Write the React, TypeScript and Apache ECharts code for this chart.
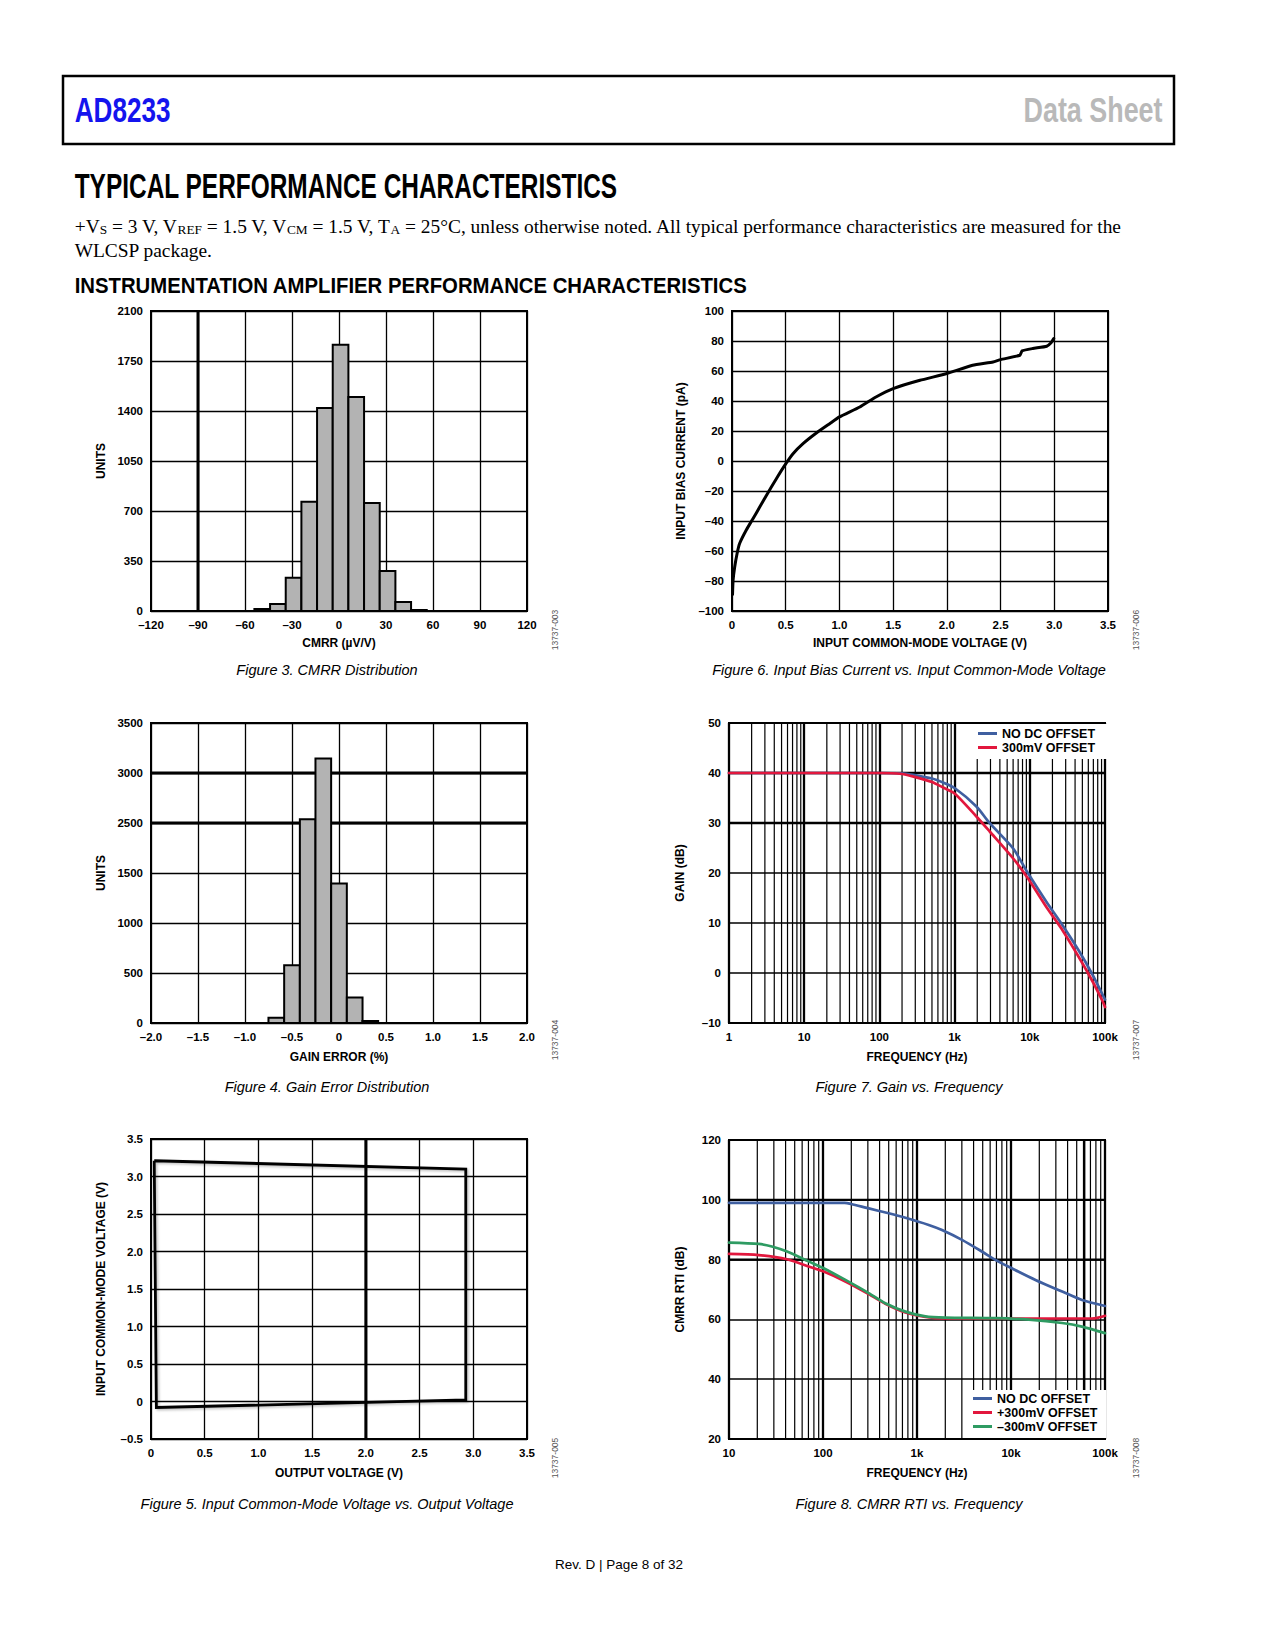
import React, { useEffect, useRef } from "react";
import * as echarts from "echarts";

// ---------- Figure 3: CMRR distribution ----------
const cmrrBinCenters = [-49, -39, -29, -19, -9, 1, 11, 21, 31, 41, 51];
const cmrrCounts = [14, 49, 233, 765, 1421, 1864, 1498, 756, 280, 63, 7];
const cmrrBinWidth = 10;

// ---------- Figure 4: Gain error distribution (values in grid-scale units) ----------
const gainErrBinCenters = [-0.667, -0.5, -0.333, -0.167, 0, 0.167, 0.333];
const gainErrCounts = [53, 578, 2038, 2646, 1396, 254, 20];
const gainErrBinWidth = 0.1667;
const gainErrYLabels = ["0", "500", "1000", "1500", "2500", "3000", "3500"];

// ---------- Figure 5: Input common-mode vs output voltage ----------
const outV = [0.03, 2.93, 2.93, 0.05, 0.03];
const inCmV = [3.21, 3.1, 0.02, -0.08, 3.21];

// ---------- Figure 6: Input bias current vs input common-mode voltage ----------
const biasV = [0.005, 0.01, 0.025, 0.047, 0.071, 0.133, 0.195, 0.258, 0.32, 0.413, 0.506, 0.568, 0.661, 0.785, 0.909, 1.0, 1.19, 1.34, 1.5, 1.75, 2.0, 2.24, 2.43, 2.5, 2.68, 2.7, 2.8, 2.93, 2.97, 2.995];
const biasI = [-89, -79.6, -70.7, -61.8, -55, -46, -38.5, -30.7, -23, -11.8, -1.3, 4.9, 11.6, 18.7, 24.9, 29.4, 36, 42.7, 48.3, 53.8, 58.3, 63.8, 66, 67.6, 70.5, 73.4, 75, 76.5, 78.8, 81.6];

// ---------- Figure 7: Gain vs frequency ----------
const gainFreq = [1, 10, 100, 200, 280, 500, 702, 1000, 1950, 2930, 5980, 9470, 16600, 26300, 46000, 69000, 94000, 100000];
const gainNoOffset = [40, 40, 40, 39.95, 39.64, 38.9, 38.1, 37.0, 33.3, 29.96, 24.95, 19.94, 14.25, 9.9, 4.2, -0.46, -4.5, -5.3];
const gain300mV = [40, 40, 40, 39.8, 39.3, 38.2, 37.1, 35.9, 31.3, 28.3, 22.95, 18.9, 13.2, 8.9, 2.9, -1.8, -5.8, -6.8];

// ---------- Figure 8: CMRR RTI vs frequency ----------
const cmrrFreqNo = [10, 100, 170, 200, 300, 500, 753, 1333, 1845, 3010, 4900, 6820, 10200, 18200, 35000, 56900, 100000];
const cmrrNoOffset = [99, 99, 99, 98.6, 97.2, 95.5, 94.0, 91.6, 89.9, 86.6, 82.7, 79.9, 77.1, 73.2, 69.3, 66.5, 64.5];
const cmrrFreqPos = [10, 20.7, 41.4, 70.4, 101.7, 173, 306, 460, 753, 1230, 2000, 6820, 35000, 72000, 85000, 100000];
const cmrrPos300 = [81.9, 81.5, 80.1, 77.7, 76.0, 72.7, 68.5, 65.2, 62.3, 60.8, 60.3, 60.3, 60.3, 60.3, 60.6, 61.2];
const cmrrFreqNeg = [10, 20.7, 28.6, 41.4, 70.4, 101.7, 173, 306, 460, 753, 1230, 2000, 6820, 15500, 35000, 56900, 100000];
const cmrrNeg300 = [85.7, 85.25, 84.4, 82.7, 79.4, 77.1, 73.2, 68.8, 65.4, 62.6, 61.0, 60.6, 60.4, 59.9, 58.8, 57.6, 55.4];

const minorMultipliers = [2, 3, 4, 5, 6, 7, 8, 9];
const decades7 = [1, 10, 100, 1000, 10000];
const decades8 = [10, 100, 1000, 10000];

const BLUE = "#3f5fa0";
const RED = "#e2173d";
const GREEN = "#2e9b62";
const SANS = "Liberation Sans";

const dash = (s: string) => s.replace("-", "\u2013");

function fitScale(text: string, font: string, target: number) {
  const c = document.createElement("canvas").getContext("2d");
  if (!c) return 1;
  c.font = font;
  const w = c.measureText(text).width;
  return w > 0 ? target / w : 1;
}

function vLines(gi: number, values: number[], yMin: number, yMax: number, width: number) {
  return {
    type: "custom",
    xAxisIndex: gi,
    yAxisIndex: gi,
    silent: true,
    z: 1,
    data: values.map((v) => [v, yMin]),
    renderItem: (_p: any, api: any) => {
      const a = api.coord([api.value(0), yMin]);
      const b = api.coord([api.value(0), yMax]);
      return { type: "line", shape: { x1: a[0], y1: a[1], x2: b[0], y2: b[1] }, style: { stroke: "#000", lineWidth: width } };
    },
  };
}

function hLines(gi: number, values: number[], xMin: number, xMax: number, width: number) {
  return {
    type: "custom",
    xAxisIndex: gi,
    yAxisIndex: gi,
    silent: true,
    z: 1,
    data: values.map((v) => [xMin, v]),
    renderItem: (_p: any, api: any) => {
      const a = api.coord([xMin, api.value(1)]);
      const b = api.coord([xMax, api.value(1)]);
      return { type: "line", shape: { x1: a[0], y1: a[1], x2: b[0], y2: b[1] }, style: { stroke: "#000", lineWidth: width } };
    },
  };
}

function histogram(gi: number, centers: number[], counts: number[], binW: number) {
  return {
    type: "custom",
    xAxisIndex: gi,
    yAxisIndex: gi,
    silent: true,
    z: 2,
    data: centers.map((c, i) => [c, counts[i]]),
    renderItem: (_p: any, api: any) => {
      const c = api.value(0);
      const v = api.value(1);
      const p0 = api.coord([c - binW / 2, v]);
      const p1 = api.coord([c + binW / 2, 0]);
      return {
        type: "rect",
        shape: { x: p0[0], y: p0[1], width: p1[0] - p0[0], height: p1[1] - p0[1] },
        style: { fill: "#b3b3b3", stroke: "#000", lineWidth: 2 },
      };
    },
  };
}

const labelStyle = { color: "#000", fontWeight: "bold", fontSize: 11.5, fontFamily: SANS, margin: 8 };
const nameStyle = { color: "#000", fontWeight: "bold", fontSize: 12, fontFamily: SANS };

function valAxis(gi: number, min: number, max: number, interval: number, fmt: (v: number) => string, name: string, gap: number, splitW = 1.3) {
  return {
    type: "value",
    gridIndex: gi,
    min,
    max,
    interval,
    name,
    nameLocation: "middle",
    nameGap: gap,
    nameTextStyle: nameStyle,
    axisLine: { show: false },
    axisTick: { show: false },
    axisLabel: { ...labelStyle, formatter: fmt },
    splitLine: { show: true, lineStyle: { color: "#000", width: splitW } },
  };
}

function logAxis(gi: number, min: number, max: number, split: number, name: string, gap: number) {
  return {
    type: "log",
    logBase: 10,
    gridIndex: gi,
    min,
    max,
    splitNumber: split,
    name,
    nameLocation: "middle",
    nameGap: gap,
    nameTextStyle: nameStyle,
    axisLine: { show: false },
    axisTick: { show: false },
    axisLabel: {
      ...labelStyle,
      formatter: (v: number) => {
        const r = Math.round(v);
        return r >= 1000 ? r / 1000 + "k" : String(r);
      },
    },
    splitLine: { show: true, lineStyle: { color: "#000", width: 2.3 } },
  };
}

const intFmt = (v: number) => dash(String(Math.round(v)));
const oneDec = (v: number) => (Math.abs(v) < 1e-9 ? "0" : dash(v.toFixed(1)));

export default function App() {
  const ref = useRef<HTMLDivElement>(null);

  useEffect(() => {
    if (!ref.current) return;
    const chart = echarts.init(ref.current, null, { renderer: "svg", width: 1275, height: 1650 });

    const grids = [
      { left: 151, top: 311, width: 376, height: 300 },
      { left: 732, top: 311, width: 376, height: 300 },
      { left: 151, top: 723, width: 376, height: 300 },
      { left: 729, top: 723, width: 376, height: 300 },
      { left: 151, top: 1139, width: 376, height: 300 },
      { left: 729, top: 1140, width: 376, height: 299 },
    ].map((g) => ({ ...g, show: true, borderColor: "#000", borderWidth: 2, backgroundColor: "transparent", containLabel: false }));

    const minor7: number[] = [];
    decades7.forEach((d) => minorMultipliers.forEach((m) => minor7.push(d * m)));
    const minor8: number[] = [];
    decades8.forEach((d) => minorMultipliers.forEach((m) => minor8.push(d * m)));

    const xAxis = [
      valAxis(0, -120, 120, 30, intFmt, "CMRR (\u00b5V/V)", 26),
      valAxis(1, 0, 3.5, 0.5, oneDec, "INPUT COMMON-MODE VOLTAGE (V)", 26),
      valAxis(2, -2, 2, 0.5, oneDec, "GAIN ERROR (%)", 28),
      logAxis(3, 1, 100000, 5, "FREQUENCY (Hz)", 28),
      valAxis(4, 0, 3.5, 0.5, oneDec, "OUTPUT VOLTAGE (V)", 28),
      logAxis(5, 10, 100000, 4, "FREQUENCY (Hz)", 28),
    ];
    const yAxis = [
      valAxis(0, 0, 2100, 350, intFmt, "UNITS", 44),
      valAxis(1, -100, 100, 20, intFmt, "INPUT BIAS CURRENT (pA)", 45),
      valAxis(2, 0, 3000, 500, (v: number) => gainErrYLabels[Math.round(v / 500)] ?? "", "UNITS", 44),
      valAxis(3, -10, 50, 10, intFmt, "GAIN (dB)", 43, 1.5),
      valAxis(4, -0.5, 3.5, 0.5, oneDec, "INPUT COMMON-MODE VOLTAGE (V)", 44),
      valAxis(5, 20, 120, 20, intFmt, "CMRR RTI (dB)", 43, 1.5),
    ];

    const lineSeries = (gi: number, name: string, xs: number[], ys: number[], color: string, width: number, smooth: number) => ({
      type: "line",
      name,
      xAxisIndex: gi,
      yAxisIndex: gi,
      data: xs.map((x, i) => [x, ys[i]]),
      symbol: "none",
      showSymbol: false,
      smooth,
      color,
      lineStyle: { color, width, join: "round", cap: "round" },
      z: 3,
      silent: true,
    });

    const series: any[] = [
      // Fig 3
      vLines(0, [-90], 0, 2100, 3),
      histogram(0, cmrrBinCenters, cmrrCounts, cmrrBinWidth),
      // Fig 6
      lineSeries(1, "bias", biasV, biasI, "#000", 3, 0.15),
      // Fig 4
      hLines(2, [2000, 2500], -2, 2, 3),
      histogram(2, gainErrBinCenters, gainErrCounts, gainErrBinWidth),
      // Fig 7
      vLines(3, minor7, -10, 50, 1.2),
      hLines(3, [30, 40], 1, 100000, 2.6),
      lineSeries(3, "NO DC OFFSET", gainFreq, gainNoOffset, BLUE, 2.7, 0.25),
      lineSeries(3, "300mV OFFSET", gainFreq, gain300mV, RED, 2.7, 0.25),
      // Fig 5
      vLines(4, [2.0], -0.5, 3.5, 3),
      {
        type: "line",
        name: "region",
        xAxisIndex: 4,
        yAxisIndex: 4,
        data: outV.map((x, i) => [x, inCmV[i]]),
        symbol: "none",
        showSymbol: false,
        lineStyle: { color: "#000", width: 2.8, join: "miter", shadowColor: "rgba(0,0,0,0.25)", shadowBlur: 2, shadowOffsetX: 1.5, shadowOffsetY: 1.5 },
        z: 3,
        silent: true,
      },
      // Fig 8
      vLines(5, minor8, 20, 120, 1.2),
      vLines(5, [60000], 20, 120, 2.5),
      hLines(5, [80, 100], 10, 100000, 2.2),
      lineSeries(5, "NO DC OFFSET", cmrrFreqNo, cmrrNoOffset, BLUE, 2.7, 0.25),
      lineSeries(5, "+300mV OFFSET", cmrrFreqPos, cmrrPos300, RED, 2.7, 0.25),
      lineSeries(5, "\u2013300mV OFFSET", cmrrFreqNeg, cmrrNeg300, GREEN, 2.7, 0.25),
    ];

    const legendBase = {
      orient: "vertical",
      backgroundColor: "#fff",
      borderWidth: 0,
      itemGap: 1,
      itemWidth: 19,
      itemHeight: 3,
      icon: "rect",
      selectedMode: false,
      textStyle: { color: "#000", fontWeight: "bold", fontSize: 12.5, fontFamily: SANS, lineHeight: 12 },
    };
    const legend = [
      { ...legendBase, data: ["NO DC OFFSET", "300mV OFFSET"], left: 972, top: 724, padding: [3, 12, 5, 6] },
      { ...legendBase, data: ["NO DC OFFSET", "+300mV OFFSET", "\u2013300mV OFFSET"], left: 968, top: 1390, padding: [2, 9, 5, 5] },
    ];

    // ---------- page texts ----------
    const hdrFont = (s: number) => `bold ${s}px "${SANS}"`;
    const adScale = fitScale("AD8233", hdrFont(36), 95.7);
    const dsScale = fitScale("Data Sheet", hdrFont(36), 139);
    const ttlScale = fitScale("TYPICAL PERFORMANCE CHARACTERISTICS", hdrFont(36), 543);
    const secScale = fitScale("INSTRUMENTATION AMPLIFIER PERFORMANCE CHARACTERISTICS", hdrFont(21.5), 673);

    // body line font size fitted to the measured line width
    const bodyParts: [string, boolean][] = [
      ["+V", false], ["S", true], [" = 3 V, V", false], ["REF", true], [" = 1.5 V, V", false], ["CM", true],
      [" = 1.5 V, T", false], ["A", true], [" = 25\u00b0C, unless otherwise noted. All typical performance characteristics are measured for the", false],
    ];
    let bodyW = 0;
    {
      const c = document.createElement("canvas").getContext("2d");
      if (c) {
        bodyParts.forEach(([t, sub]) => {
          c.font = `${sub ? 11 : 16}px "Liberation Serif"`;
          bodyW += c.measureText(t).width;
        });
      }
    }
    const bodyK = bodyW > 0 ? 1047.8 / bodyW : 1;
    const bodySize = 16 * bodyK;
    const subSize = 11 * bodyK;

    const codeLabel = (x: number, y: number, t: string) => ({
      type: "text",
      x,
      y,
      rotation: Math.PI / 2,
      style: { text: t, fontSize: 8.5, fontFamily: SANS, fill: "#555", align: "center", verticalAlign: "middle" },
    });
    const caption = (x: number, y: number, t: string) => ({
      type: "text",
      x,
      y,
      style: { text: t, fontSize: 14.5, fontStyle: "italic", fontFamily: SANS, fill: "#000", align: "center", verticalAlign: "middle" },
    });

    const graphic: any[] = [
      { type: "rect", shape: { x: 63, y: 76, width: 1111, height: 68 }, style: { fill: "none", stroke: "#000", lineWidth: 2.5 } },
      { type: "text", x: 74.7, y: 110, scaleX: adScale, style: { text: "AD8233", fontSize: 36, fontWeight: "bold", fontFamily: SANS, fill: "#1414ee", align: "left", verticalAlign: "middle" } },
      { type: "text", x: 1162.5, y: 110, scaleX: dsScale, style: { text: "Data Sheet", fontSize: 36, fontWeight: "bold", fontFamily: SANS, fill: "#b9b9b9", align: "right", verticalAlign: "middle" } },
      { type: "text", x: 74.7, y: 186, scaleX: ttlScale, style: { text: "TYPICAL PERFORMANCE CHARACTERISTICS", fontSize: 36, fontWeight: "bold", fontFamily: SANS, fill: "#000", align: "left", verticalAlign: "middle" } },
      {
        type: "text",
        x: 74.7,
        y: 226,
        style: {
          text: bodyParts.map(([t, sub]) => (sub ? `{sub|${t}}` : `{m|${t}}`)).join(""),
          rich: {
            m: { fontSize: bodySize, fontFamily: "Liberation Serif", fill: "#000", verticalAlign: "bottom" },
            sub: { fontSize: subSize, fontFamily: "Liberation Serif", fill: "#000", verticalAlign: "bottom" },
          },
          align: "left",
          verticalAlign: "middle",
        },
      },
      { type: "text", x: 74.7, y: 250, style: { text: "WLCSP package.", fontSize: bodySize, fontFamily: "Liberation Serif", fill: "#000", align: "left", verticalAlign: "middle" } },
      { type: "text", x: 74.7, y: 285.5, scaleX: secScale, style: { text: "INSTRUMENTATION AMPLIFIER PERFORMANCE CHARACTERISTICS", fontSize: 21.5, fontWeight: "bold", fontFamily: SANS, fill: "#000", align: "left", verticalAlign: "middle" } },
      caption(327, 670, "Figure 3. CMRR Distribution"),
      caption(909, 670, "Figure 6. Input Bias Current vs. Input Common-Mode Voltage"),
      caption(327, 1087, "Figure 4. Gain Error Distribution"),
      caption(909, 1087, "Figure 7. Gain vs. Frequency"),
      caption(327, 1504, "Figure 5. Input Common-Mode Voltage vs. Output Voltage"),
      caption(909, 1504, "Figure 8. CMRR RTI vs. Frequency"),
      codeLabel(555, 630, "13737-003"),
      codeLabel(1136, 630, "13737-006"),
      codeLabel(555, 1040, "13737-004"),
      codeLabel(1136, 1040, "13737-007"),
      codeLabel(555, 1458, "13737-005"),
      codeLabel(1136, 1458, "13737-008"),
      { type: "text", x: 619, y: 1564, style: { text: "Rev. D | Page 8 of 32", fontSize: 13.5, fontFamily: SANS, fill: "#000", align: "center", verticalAlign: "middle" } },
    ];

    chart.setOption({
      animation: false,
      backgroundColor: "#fff",
      textStyle: { fontFamily: SANS },
      grid: grids,
      xAxis,
      yAxis,
      legend,
      series,
      graphic,
    });

    return () => chart.dispose();
  }, []);

  return <div ref={ref} style={{ position: "absolute", left: 0, top: 0, width: 1275, height: 1650, background: "#fff" }} />;
}
